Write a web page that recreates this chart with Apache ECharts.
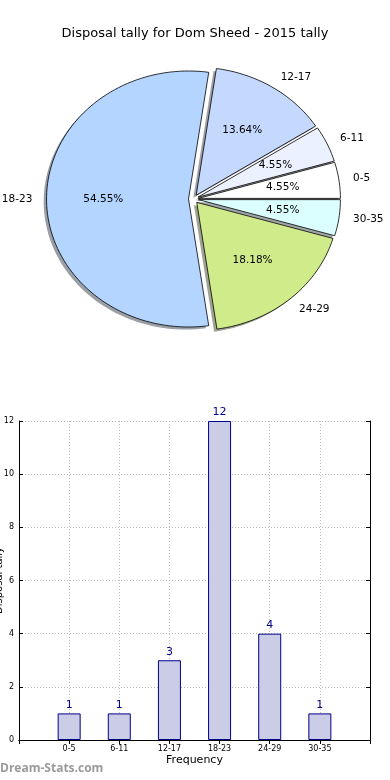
<!DOCTYPE html>
<html><head><meta charset="utf-8">
<script src="https://cdn.jsdelivr.net/npm/echarts@6/dist/echarts.min.js"></script>
<style>html,body{margin:0;padding:0;background:#fff}#c{width:390px;height:780px}</style>
</head><body><div id="c"></div>
<script>
const categories = ['0-5', '6-11', '12-17', '18-23', '24-29', '30-35'];
const counts = [1, 1, 3, 12, 4, 1];
const sliceColors = ['#ffffff', '#ebf1ff', '#c5d9ff', '#b3d5ff', '#d0eb8a', '#dbffff'];
const yTicks = [0, 2, 4, 6, 8, 10, 12];

const total = counts.reduce((a, b) => a + b, 0);
const FONT = 'DejaVu Sans';
const EXPLODE = 0.035;

// pie wedges in matplotlib style: start at 0 deg, counter-clockwise
let cum = 0;
const wedgeData = counts.map((v, i) => {
  const a0 = cum / total * 360; cum += v;
  const a1 = cum / total * 360;
  return [a0, a1, v, i];
});

function hexToRgb(h) {
  return [parseInt(h.slice(1, 3), 16), parseInt(h.slice(3, 5), 16), parseInt(h.slice(5, 7), 16)];
}

function renderWedge(params, api) {
  const a0 = api.value(0) * Math.PI / 180, a1 = api.value(1) * Math.PI / 180;
  const v = api.value(2), idx = api.value(3);
  const mid = (a0 + a1) / 2;
  const ox = EXPLODE * Math.cos(mid), oy = EXPLODE * Math.sin(mid);
  const n = Math.max(4, Math.ceil((a1 - a0) / (Math.PI / 90)));
  const pts = [[ox, oy]];
  for (let k = 0; k <= n; k++) {
    const t = a0 + (a1 - a0) * k / n;
    pts.push([ox + Math.cos(t), oy + Math.sin(t)]);
  }
  const px = pts.map(p => api.coord(p));
  const sh = pts.map(p => api.coord([p[0] - 0.02, p[1] - 0.02]));
  const rgb = hexToRgb(sliceColors[idx]);
  const shadowFill = 'rgba(' + rgb.map(c => Math.round(c * 0.3)).join(',') + ',0.5)';
  const pctPos = api.coord([ox + 0.6 * Math.cos(mid), oy + 0.6 * Math.sin(mid)]);
  const namePos = api.coord([ox + 1.1 * Math.cos(mid), oy + 1.1 * Math.sin(mid)]);
  return {
    type: 'group',
    children: [
      { type: 'polygon', shape: { points: sh }, style: { fill: shadowFill, stroke: null }, z2: 0 },
      { type: 'polygon', shape: { points: px }, style: { fill: sliceColors[idx], stroke: '#000', lineWidth: 0.8 }, z2: 1 },
      { type: 'text', x: pctPos[0], y: pctPos[1], z2: 5,
        style: { text: (v / total * 100).toFixed(2) + '%', fill: '#000', font: '10.5px "DejaVu Sans"',
          align: 'center', verticalAlign: 'middle' } },
      { type: 'text', x: namePos[0], y: namePos[1], z2: 5,
        style: { text: categories[idx], fill: '#000', font: '10.5px "DejaVu Sans"',
          align: Math.cos(mid) > 0 ? 'left' : 'right', verticalAlign: 'middle' } }
    ]
  };
}

const xCats = [''].concat(categories).concat(['']);
const barData = [null].concat(counts).concat([null]);

// pie area: unit circle -> rx 142 px, ry 128 px, center (193.5, 199)
const RX = 142, RY = 128, PCX = 193.5, PCY = 199, XR = 1.3, YR = 1.2;

const chart = echarts.init(document.getElementById('c'), null, { renderer: 'canvas' });
chart.setOption({
  animation: false,
  title: { text: 'Disposal tally for Dom Sheed - 2015 tally', left: 'center', top: 22,
    textStyle: { fontFamily: FONT, fontSize: 13, fontWeight: 'normal', color: '#000' } },
  graphic: [{ type: 'text', left: 0, top: 763,
    style: { text: 'Dream-Stats.com', fill: '#9a9a9a', font: 'bold 12px "Open Sans", "DejaVu Sans"' } }],
  grid: [
    { left: 19, top: 421, width: 351, height: 319, containLabel: false, outerBoundsMode: 'none' },
    { left: PCX - XR * RX, top: PCY - YR * RY, width: 2 * XR * RX, height: 2 * YR * RY,
      containLabel: false, outerBoundsMode: 'none', show: false }
  ],
  xAxis: [{
    type: 'category', data: xCats, boundaryGap: false, position: 'bottom', gridIndex: 0,
    name: 'Frequency', nameLocation: 'middle', nameGap: 15,
    nameTextStyle: { fontFamily: FONT, fontSize: 11, color: '#000' },
    axisLine: { lineStyle: { color: '#000', width: 1 } },
    axisTick: { inside: true, length: 4, lineStyle: { color: '#000' } },
    axisLabel: { fontFamily: FONT, fontSize: 8, color: '#000', margin: 5, interval: 0 },
    splitLine: { show: true, lineStyle: { color: '#bbb', type: [1, 2], width: 1 } }
  }, {
    type: 'category', data: xCats, boundaryGap: false, position: 'top', gridIndex: 0,
    axisLine: { lineStyle: { color: '#000', width: 1 } },
    axisTick: { inside: true, length: 4, lineStyle: { color: '#000' } },
    axisLabel: { show: false }, splitLine: { show: false }
  }, {
    type: 'value', gridIndex: 1, min: -XR, max: XR, show: false
  }],
  yAxis: [{
    type: 'value', min: 0, max: 12, interval: 2, position: 'left', gridIndex: 0,
    name: 'Disposal tally', nameLocation: 'middle', nameGap: 15, nameRotate: 90, nameMoveOverlap: false,
    nameTextStyle: { fontFamily: FONT, fontSize: 10, color: '#000' },
    axisLine: { show: true, lineStyle: { color: '#000', width: 1 } },
    axisTick: { show: true, inside: true, length: 4, lineStyle: { color: '#000' } },
    axisLabel: { fontFamily: FONT, fontSize: 8, color: '#000', margin: 5,
      formatter: v => yTicks.includes(v) ? String(v) : '' },
    splitLine: { show: true, lineStyle: { color: '#bbb', type: [1, 2], width: 1 } }
  }, {
    type: 'value', min: 0, max: 12, interval: 2, position: 'right', gridIndex: 0,
    axisLine: { show: true, lineStyle: { color: '#000', width: 1 } },
    axisTick: { show: true, inside: true, length: 4, lineStyle: { color: '#000' } },
    axisLabel: { show: false }, splitLine: { show: false }
  }, {
    type: 'value', gridIndex: 1, min: -YR, max: YR, show: false
  }],
  series: [
    {
      type: 'custom', xAxisIndex: 2, yAxisIndex: 2, data: wedgeData, renderItem: renderWedge,
      clip: false, silent: true, encode: { x: -1, y: -1 }
    },
    {
      type: 'bar', data: barData, barWidth: 23, xAxisIndex: 0, yAxisIndex: 0,
      itemStyle: { color: '#cbcce6', borderColor: '#00008b', borderWidth: 1 },
      label: { show: true, position: 'top', distance: 3, fontFamily: FONT, fontSize: 11, color: '#00008b' },
      emphasis: { disabled: true }
    }
  ]
});
</script></body></html>
